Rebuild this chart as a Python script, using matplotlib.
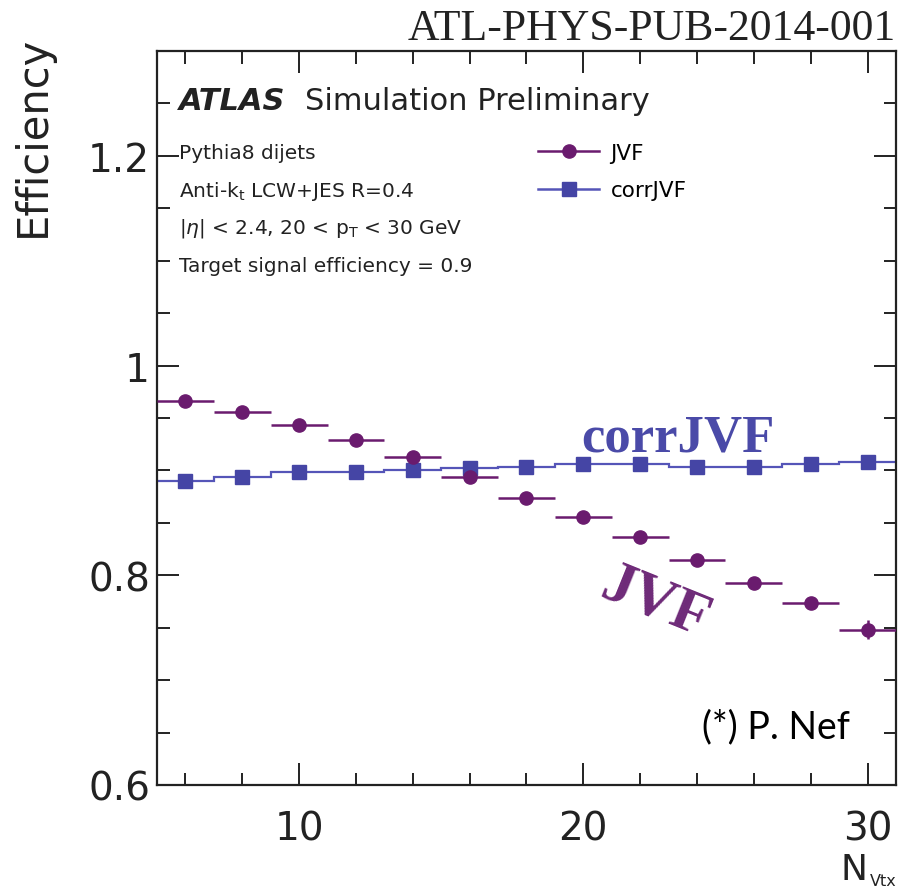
import numpy as np
import matplotlib
matplotlib.use("Agg")
import matplotlib.pyplot as plt
from matplotlib.ticker import MultipleLocator, FixedFormatter, FixedLocator
from matplotlib.lines import Line2D

# ---- data ----
nvtx = [6, 8, 10, 12, 14, 16, 18, 20, 22, 24, 26, 28, 30]
bin_half_width = [1] * 13
jvf_eff = [0.966, 0.956, 0.943, 0.929, 0.913, 0.894, 0.874, 0.856, 0.836, 0.815, 0.793, 0.774, 0.748]
jvf_err = [0.003, 0.003, 0.003, 0.003, 0.003, 0.003, 0.003, 0.003, 0.003, 0.004, 0.004, 0.005, 0.009]
corr_eff = [0.890, 0.894, 0.898, 0.898, 0.900, 0.902, 0.903, 0.906, 0.906, 0.903, 0.903, 0.906, 0.908]
bin_edges = [5, 7, 9, 11, 13, 15, 17, 19, 21, 23, 25, 27, 29, 31]
y_ticks = [0.6, 0.8, 1.0, 1.2]
y_tick_labels = ["0.6", "0.8", "1", "1.2"]
x_ticks = [10, 20, 30]
x_tick_labels = ["10", "20", "30"]

jvf_color = "#6a1b6e"
corr_color = "#4545a5"
corr_line = "#5555b8"

plt.rcParams['font.family'] = ['DejaVu Sans']
plt.rcParams['mathtext.fontset'] = 'dejavusans'

fig = plt.figure(figsize=(8.99, 8.95), dpi=100)
ax = fig.add_axes([0.1746, 0.1218, 0.9967 - 0.1746, 0.942 - 0.1218])

# corrJVF: step histogram plus square markers
ax.stairs(corr_eff, bin_edges, baseline=None, color=corr_line, lw=1.6, zorder=2)
ax.plot(nvtx, corr_eff, ls="none", marker="s", ms=10.5, color=corr_color, zorder=3)

# JVF: points with horizontal bin errors
ax.errorbar(nvtx, jvf_eff, xerr=bin_half_width, yerr=jvf_err, fmt="o", ms=9.5,
            color=jvf_color, ecolor=jvf_color, elinewidth=1.8, capsize=0, zorder=4)

ax.set_xlim(5, 31)
ax.set_ylim(0.6, 1.3)

ax.xaxis.set_major_locator(FixedLocator(x_ticks))
ax.xaxis.set_major_formatter(FixedFormatter(x_tick_labels))
ax.xaxis.set_minor_locator(MultipleLocator(2))
ax.yaxis.set_major_locator(FixedLocator(y_ticks))
ax.yaxis.set_major_formatter(FixedFormatter(y_tick_labels))
ax.yaxis.set_minor_locator(MultipleLocator(0.05))

ax.tick_params(which="both", direction="in", top=True, right=True, width=1.4, color="#222222")
ax.tick_params(which="major", length=16, labelsize=28, labelcolor="#222222")
ax.tick_params(axis="x", which="major", pad=18)
ax.tick_params(axis="y", which="major", pad=5)
ax.tick_params(which="minor", length=9)
for s in ax.spines.values():
    s.set_linewidth(1.6)
    s.set_color("#222222")

# axis titles (ROOT style, at the ends)
fig.text(33 / 899, 1 - 36 / 895, "Efficiency", rotation=90, fontsize=30,
         ha="center", va="top", color="#222222")
fig.text(868 / 899, 1 - 870 / 895, "N", fontsize=26,
         ha="right", va="center", color="#222222")
fig.text(870 / 899, 1 - 882 / 895, "Vtx", fontsize=11.5,
         ha="left", va="center", color="#222222")

# ATLAS label
ax.text(0.03, 0.933, "ATLAS", transform=ax.transAxes, fontsize=22, fontweight="bold",
        fontstyle="italic", va="center", ha="left", color="#222222")
ax.text(0.2, 0.933, "Simulation Preliminary", transform=ax.transAxes, fontsize=22,
        va="center", ha="left", color="#222222")
info = ["Pythia8 dijets",
        r"Anti-k$_{\mathregular{t}}$ LCW+JES R=0.4",
        r"|$\eta$| < 2.4, 20 < p$_{\mathregular{T}}$ < 30 GeV",
        "Target signal efficiency = 0.9"]
for i, t in enumerate(info):
    ax.text(0.03, 0.862 - i * 0.0515, t, transform=ax.transAxes, fontsize=14.5,
            va="center", ha="left", color="#222222")

# legend (manual handles)
h1 = Line2D([], [], color=jvf_color, marker="o", ms=9.5, lw=1.8)
h2 = Line2D([], [], color=corr_line, marker="s", ms=10.5, mfc=corr_color, mec=corr_color, lw=1.8)
leg = ax.legend([h1, h2], ["JVF", "corrJVF"], loc="upper left", bbox_to_anchor=(0.49, 0.901),
                frameon=False, fontsize=15.5, handlelength=2.8, labelspacing=0.8, handletextpad=0.55)

# annotations
ax.text(0.705, 0.473, "corrJVF", transform=ax.transAxes, color="#4a4aa8", fontsize=38,
        fontweight="bold", family=["Liberation Serif", "DejaVu Serif"], ha="center", va="center")
ax.text(0.674, 0.249, "JVF", transform=ax.transAxes, color="#6e2a78", fontsize=44,
        fontweight="bold", family=["Liberation Serif", "DejaVu Serif"], ha="center", va="center",
        rotation=-22)
ax.text(0.937, 0.08, "(*) P. Nef", transform=ax.transAxes, fontsize=27,
        family=["Lato", "DejaVu Sans"], ha="right", va="center", color="black")

fig.text(0.997, 0.968, "ATL-PHYS-PUB-2014-001", fontsize=31.5,
         family=["Liberation Serif", "DejaVu Serif"], ha="right", va="center", color="#222222")

fig.savefig("out.png", dpi=100)
